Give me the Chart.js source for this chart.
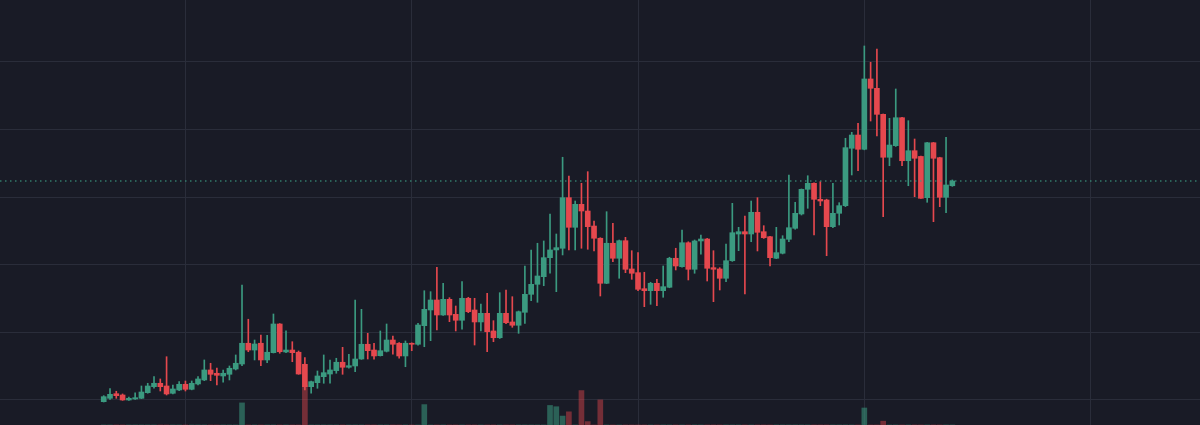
<!DOCTYPE html>
<html>
<head>
<meta charset="utf-8">
<script src="https://cdn.jsdelivr.net/npm/chart.js@4.4.1/dist/chart.umd.min.js"></script>
<style>
  html, body { margin: 0; padding: 0; background: #191b26; }
  #wrap { width: 1200px; height: 425px; position: relative; }
</style>
</head>
<body>
<div id="wrap"><canvas id="myChart"></canvas></div>
<script>
// candles, one per session (index 0..135)
const opens = [
  9.75, 10.25, 10.93, 10.74, 10.00, 10.15, 10.25, 11.08, 11.97, 12.47,
  12.07, 10.99, 11.48, 12.32, 11.58, 12.37, 12.96, 14.44, 13.95, 13.55,
  13.80, 14.58, 15.32, 18.39, 17.39, 18.39, 15.92, 17.00, 21.24, 17.10,
  17.39, 17.06, 15.28, 11.97, 12.56, 13.45, 13.84, 14.34, 15.58, 14.84,
  15.03, 16.06, 18.24, 17.39, 16.55, 17.20, 18.87, 18.39, 16.51, 18.39,
  18.24, 20.99, 23.31, 24.79, 22.57, 24.89, 22.67, 21.79, 25.04, 23.31,
  21.54, 22.82, 20.21, 19.21, 22.82, 21.54, 21.05, 22.97, 25.63, 27.11,
  28.24, 31.05, 32.19, 32.44, 39.92, 35.54, 38.94, 37.95, 35.73, 33.92,
  27.26, 33.18, 30.96, 33.56, 29.38, 28.83, 26.46, 26.17, 27.26, 26.17,
  26.67, 30.96, 29.72, 33.26, 29.33, 33.52, 33.81, 29.57, 29.38, 28.00,
  30.60, 34.55, 34.89, 34.55, 37.76, 34.89, 34.15, 30.96, 31.70, 33.77,
  35.39, 37.51, 41.16, 42.05, 39.68, 39.58, 35.63, 37.61, 38.74, 47.23,
  49.19, 47.08, 57.48, 56.10, 52.25, 45.90, 47.61, 51.75, 45.39, 46.87,
  46.02, 39.92, 48.05, 45.84, 39.98, 41.69
];
const highs = [
  10.64, 11.67, 11.29, 10.89, 10.44, 11.04, 12.07, 12.47, 13.45, 13.11,
  16.40, 12.22, 12.71, 12.81, 12.81, 13.45, 15.92, 15.43, 14.73, 14.44,
  15.03, 16.66, 27.01, 21.94, 18.87, 19.61, 19.57, 22.72, 21.30, 20.21,
  18.62, 17.25, 16.26, 12.80, 14.29, 16.66, 15.92, 16.17, 17.79, 16.76,
  24.79, 23.41, 19.86, 18.39, 20.21, 21.24, 19.47, 18.50, 18.73, 18.45,
  21.34, 26.16, 26.02, 29.63, 27.26, 25.13, 23.90, 27.50, 25.19, 25.04,
  24.20, 25.78, 21.73, 25.87, 26.27, 25.28, 23.16, 29.82, 32.19, 33.18,
  33.52, 37.51, 34.55, 45.90, 43.13, 39.43, 42.05, 43.77, 36.47, 34.00,
  37.85, 36.13, 33.66, 34.06, 32.08, 31.79, 28.89, 27.41, 27.85, 29.82,
  31.11, 32.44, 35.14, 33.40, 33.66, 34.40, 33.90, 32.08, 29.57, 33.07,
  39.09, 35.54, 37.21, 39.43, 39.92, 35.78, 34.20, 35.54, 34.30, 43.28,
  39.24, 41.21, 43.17, 42.10, 42.29, 39.70, 42.05, 39.18, 48.71, 49.59,
  50.92, 62.36, 59.95, 61.91, 52.30, 51.66, 56.00, 51.80, 51.31, 48.60,
  46.09, 48.10, 48.10, 45.90, 48.85, 42.54
];
const lows = [
  9.70, 10.10, 10.25, 9.95, 9.95, 10.10, 10.20, 11.00, 11.73, 11.33,
  10.74, 10.90, 11.38, 11.33, 11.50, 12.22, 12.86, 12.86, 12.22, 12.62,
  12.96, 14.44, 15.07, 17.14, 15.92, 15.07, 15.52, 16.95, 16.91, 17.00,
  15.66, 13.80, 11.48, 10.99, 11.73, 12.47, 12.47, 13.95, 13.80, 14.70,
  14.19, 16.00, 16.06, 16.02, 16.50, 17.10, 16.76, 16.17, 14.92, 17.29,
  18.10, 17.88, 18.77, 20.35, 22.50, 21.58, 20.21, 20.46, 22.91, 18.13,
  20.21, 17.14, 18.62, 19.10, 21.30, 20.75, 19.86, 21.34, 24.69, 24.45,
  26.90, 28.74, 26.02, 31.45, 32.19, 32.19, 32.44, 32.29, 32.04, 25.38,
  27.20, 30.46, 28.00, 28.83, 27.85, 26.17, 23.80, 24.15, 23.95, 25.19,
  26.60, 29.23, 29.63, 27.75, 28.74, 31.55, 27.60, 24.54, 26.27, 27.50,
  30.50, 32.08, 25.68, 33.41, 32.04, 33.90, 29.82, 30.90, 31.60, 33.41,
  35.25, 37.36, 38.35, 34.40, 38.74, 31.34, 35.50, 35.88, 38.60, 43.28,
  43.91, 47.00, 51.26, 49.04, 37.11, 44.65, 47.50, 44.65, 41.69, 40.07,
  39.80, 39.24, 36.37, 38.59, 37.70, 41.60
];
const closes = [
  10.49, 10.84, 10.64, 10.00, 10.25, 10.34, 11.18, 12.07, 12.47, 11.97,
  10.89, 11.63, 12.32, 11.58, 12.47, 13.11, 14.44, 13.80, 13.65, 13.95,
  14.69, 15.43, 18.39, 17.39, 18.28, 15.92, 17.06, 21.24, 17.14, 17.39,
  17.00, 13.84, 11.97, 12.71, 13.55, 14.04, 14.44, 15.58, 14.84, 15.07,
  16.06, 18.24, 17.29, 16.51, 17.29, 18.87, 18.24, 16.51, 18.39, 18.24,
  21.09, 23.41, 24.79, 22.57, 24.89, 22.57, 21.79, 25.04, 23.06, 21.54,
  22.82, 20.10, 19.21, 22.82, 21.43, 21.05, 23.06, 25.63, 27.11, 28.34,
  31.05, 32.19, 32.53, 39.92, 35.54, 38.94, 37.95, 35.63, 33.92, 27.26,
  33.18, 30.96, 33.56, 29.33, 28.74, 26.37, 26.17, 27.26, 26.17, 26.76,
  30.96, 29.82, 33.26, 29.33, 33.52, 33.81, 29.48, 29.33, 28.00, 30.60,
  34.74, 34.89, 34.55, 37.76, 34.80, 34.00, 31.05, 31.79, 33.81, 35.48,
  37.61, 41.16, 42.05, 39.68, 39.43, 35.63, 37.61, 38.74, 47.32, 49.19,
  47.08, 57.48, 56.10, 52.25, 45.90, 47.71, 51.75, 45.39, 46.87, 45.75,
  39.83, 48.05, 45.75, 39.98, 41.80, 42.39
];
// volume (thousands), only the spikes show above the bottom edge
const volumes = [
  0, 0, 0, 0, 0, 0, 0, 0, 0, 0,
  0, 0, 0, 0, 0, 0, 0, 0, 0, 0,
  0, 0, 52, 0, 0, 0, 0, 0, 0, 0,
  0, 0, 94, 0, 0, 0, 0, 0, 0, 0,
  0, 0, 0, 0, 0, 0, 0, 0, 0, 0,
  0, 48, 0, 0, 0, 0, 0, 0, 0, 0,
  0, 0, 0, 0, 0, 0, 0, 0, 0, 0,
  0, 46, 43, 21, 31, 0, 81, 8, 0, 59,
  0, 0, 0, 0, 0, 0, 0, 0, 0, 0,
  0, 0, 0, 0, 0, 0, 0, 0, 0, 0,
  0, 0, 0, 0, 0, 0, 0, 0, 0, 0,
  0, 0, 0, 0, 0, 0, 0, 0, 0, 0,
  0, 40, 0, 0, 9, 0, 0, 0, 0, 0,
  0, 0, 0, 0, 0, 0
];
const priceGrid = [10, 20, 30, 40, 50, 60];
const timeGrid = [13, 49, 85, 121, 157];

const upColor = '#3b9a80';
const downColor = '#e5484e';
const upVol = 'rgba(59, 154, 128, 0.55)';
const downVol = 'rgba(229, 72, 78, 0.45)';
const gridColor = '#2a2d3a';

const xMin = -16.5, xMax = 174.4;
const lastClose = closes[closes.length - 1];

var bodies = [], wicks = [], vols = [], colors = [], volColors = [];
for (var i = 0; i < opens.length; i++) {
    var up = closes[i] >= opens[i];
    bodies.push({ x: i, y: [opens[i], closes[i]] });
    wicks.push({ x: i, y: [lows[i], highs[i]] });
    vols.push({ x: i, y: volumes[i] });
    colors.push(up ? upColor : downColor);
    volColors.push(up ? upVol : downVol);
}

var ctx = document.getElementById('myChart').getContext('2d');
var myChart = new Chart(ctx, {
    type: 'bar',
    data: {
        datasets: [{
            type: 'line',
            data: [{ x: xMin, y: lastClose }, { x: xMax, y: lastClose }],
            borderColor: 'rgba(59, 154, 128, 0.75)',
            borderWidth: 1.5,
            borderDash: [1.5, 3.5],
            pointRadius: 0,
            order: 0
        }, {
            data: bodies,
            backgroundColor: colors,
            barThickness: 5,
            minBarLength: 1,
            grouped: false,
            order: 1
        }, {
            data: wicks,
            backgroundColor: colors,
            barThickness: 1,
            grouped: false,
            order: 2
        }, {
            data: vols,
            backgroundColor: volColors,
            barThickness: 5,
            grouped: false,
            yAxisID: 'yv',
            order: 3
        }]
    },
    options: {
        responsive: true,
        maintainAspectRatio: false,
        animation: false,
        layout: { padding: 0 },
        plugins: { legend: { display: false }, tooltip: { enabled: false } },
        scales: {
            x: {
                type: 'linear',
                min: xMin,
                max: xMax,
                offset: false,
                grid: { color: gridColor, lineWidth: 1, drawTicks: false, offset: false },
                border: { display: false },
                ticks: { display: false },
                afterBuildTicks: function(s) { s.ticks = timeGrid.map(function(v) { return { value: v }; }); }
            },
            y: {
                min: 6.3,
                max: 69.16,
                grid: { color: gridColor, lineWidth: 1, drawTicks: false },
                border: { display: false },
                ticks: { display: false },
                afterBuildTicks: function(s) { s.ticks = priceGrid.map(function(v) { return { value: v }; }); }
            },
            yv: {
                min: 0,
                max: 1000,
                display: false
            }
        }
    }
});
</script>
</body>
</html>
